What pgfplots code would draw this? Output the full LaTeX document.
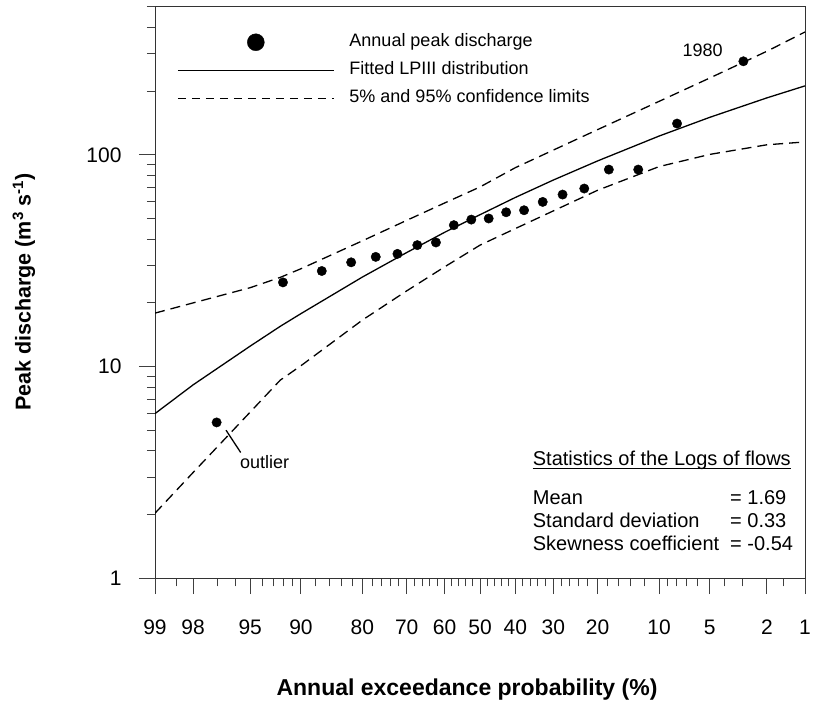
\documentclass[border=0pt]{standalone}
\usepackage{fontspec}
\setmainfont{Liberation Sans}
\usepackage{pgfplots}
\usepackage{pgfplotstable}
\pgfplotsset{compat=1.18}
\pgfplotsset{
  dotlegend/.style={legend image code/.code={\draw[##1] plot coordinates {(78bp,0bp)};}},
  linelegend/.style={legend image code/.code={\draw[##1] (0bp,0bp) -- (156bp,0bp);}},
}

\pgfplotstableread{
z        fit    up     lo
-2.3263  6.0    17.9   2.03
-2.0537  8.2    20.0   3.16
-1.6449  12.5   23.6   6.1
-1.4300  15.5   26.4   8.63
-1.2816  17.8   29.0   10.1
-0.8416  26.5   39.3   16.6
-0.5244  34.6   49.1   22.8
-0.2533  43.1   59.3   29.6
0        52.2   70.6   37.5
0.2533   63.0   87.1   44.9
0.5244   76.1   105.4  54.4
0.8416   93.7   131.7  68.1
1.2816   122.8  179.1  88.1
1.6449   150.6  231    100.6
2.0537   186.1  309    111.7
2.3263   212    381    115.2
}\curves

\pgfplotstableread{
z        q
1.8852   277
1.4104   140.7
1.1325   85.3
0.9222   85.3
0.7463   69.4
0.5910   65.0
0.4489   60.0
0.3154   54.8
0.1872   53.6
0.0621   50.1
-0.0621  49.5
-0.1872  46.6
-0.3154  38.6
-0.4489  37.5
-0.5910  34.1
-0.7463  33.0
-0.9222  31.1
-1.1325  28.3
-1.4104  25.0
-1.8852  5.45
}\points

\begin{document}
\begin{tikzpicture}
\useasboundingbox (0,0) rectangle (814bp,707bp);
\begin{axis}[
  at={(155bp,128.7bp)}, anchor=south west,
  width=650bp, height=571.3bp, scale only axis,
  xmin=-2.3263, xmax=2.3263,
  ymode=log, ymin=1, ymax=500,
  clip mode=individual,
  axis line style={line width=1bp, black!80},
  every tick/.style={line width=1bp, black!75},
  tick align=outside,
  xtick pos=left, ytick pos=left,
  major tick length=16bp, minor tick length=8bp,
  /pgf/number format/assume math mode=true,
  tick label style={font=\fontsize{21bp}{25bp}\selectfont},
  xtick={-2.3263,-2.0537,-1.6449,-1.2816,-0.8416,-0.5244,-0.2533,0,0.2533,0.5244,0.8416,1.2816,1.6449,2.0537,2.3263},
  xticklabels={99,98,95,90,80,70,60,50,40,30,20,10,5,2,1},
  minor xtick={-2.1701,-1.8808,-1.7507,-1.5548,-1.4758,-1.4051,-1.3408,-1.1750,-1.0803,-0.9945,-0.9154,-0.7722,-0.7063,-0.6433,-0.5828,-0.4677,-0.4125,-0.3585,-0.3055,-0.2019,-0.1510,-0.1004,-0.0502,0.0502,0.1004,0.1510,0.2019,0.3055,0.3585,0.4125,0.4677,0.5828,0.6433,0.7063,0.7722,0.9154,0.9945,1.0803,1.1750,1.3408,1.4051,1.4758,1.5548,1.7507,1.8808,2.1701},
  ytick={1,10,100},
  yticklabels={1,10,100},
  minor ytick={2,3,4,5,6,7,8,9,20,30,40,50,60,70,80,90,200,300,400,500},
  xticklabel style={yshift=-22bp},
  yticklabel style={xshift=-14bp},
  xlabel={Annual exceedance probability (\%)},
  xlabel style={font=\fontsize{23bp}{27bp}\selectfont\bfseries, at={(axis description cs:0.48,-0.1955)}, anchor=center},
  ylabel={Peak discharge (m\textsuperscript{3} s\textsuperscript{-1})},
  ylabel style={font=\fontsize{21.5bp}{25bp}\selectfont\bfseries, at={(axis description cs:-0.2015,0.501)}, anchor=center},
  legend style={at={(axis description cs:0.0292,0.957)}, anchor=north west,
    draw=none, fill=none, font=\fontsize{18bp}{21bp}\selectfont,
    nodes={inner sep=0pt, text height=13bp, text depth=4bp},
    row sep=11bp, column sep=15bp},
  legend cell align=left,
]
\addlegendimage{black, only marks, mark=*, mark size=8.5bp, dotlegend}
\addlegendentry{Annual peak discharge}
\addlegendimage{black, line width=1.3bp, linelegend}
\addlegendentry{Fitted LPIII distribution}
\addlegendimage{black, line width=1.3bp, dash pattern=on 8bp off 6bp, linelegend}
\addlegendentry{5\% and 95\% confidence limits}

\addplot[forget plot, black, line width=1.3bp] table[x=z, y=fit]{\curves};
\addplot[forget plot, black, line width=1.3bp, dash pattern=on 10bp off 6bp] table[x=z, y=up]{\curves};
\addplot[forget plot, black, line width=1.3bp, dash pattern=on 10bp off 6bp] table[x=z, y=lo]{\curves};
\addplot[forget plot, black, only marks, mark=*, mark size=4.7bp] table[x=z, y=q]{\points};

\node[font=\fontsize{18bp}{21bp}\selectfont, anchor=center] at (axis cs:1.594,312) {1980};
\draw[line width=1.3bp] (axis cs:-1.818,5.01) -- (axis cs:-1.713,3.93);
\node[font=\fontsize{18bp}{21bp}\selectfont, anchor=west, inner sep=0pt] at (axis cs:-1.718,3.55) {outlier};

\begin{scope}[every node/.style={font=\fontsize{20bp}{24bp}\selectfont, anchor=base west, inner sep=0pt}]
\node (st) at (axis description cs:0.581,0.1974) {Statistics of the Logs of flows};
\draw[line width=1bp] ([yshift=-2.5bp]st.base west) -- ([yshift=-2.5bp]st.base east);
\node at (axis description cs:0.581,0.1292) {Mean};
\node at (axis description cs:0.581,0.0894) {Standard deviation};
\node at (axis description cs:0.581,0.0487) {Skewness coefficient};
\node at (axis description cs:0.8846,0.1292) {= 1.69};
\node at (axis description cs:0.8846,0.0894) {= 0.33};
\node at (axis description cs:0.8846,0.0487) {= -0.54};
\end{scope}
\end{axis}
\end{tikzpicture}
\end{document}
